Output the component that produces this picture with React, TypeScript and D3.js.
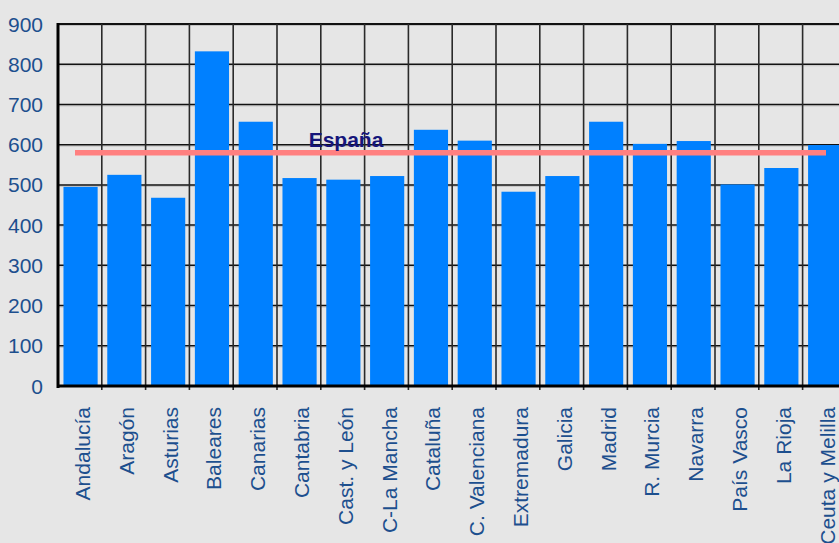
import * as d3 from "d3";

const W = 839;
const H = 543;
const MARGIN = { top: 24, left: 58, bottom: 157 };

const regions = [
  "Andalucía", "Aragón", "Asturias", "Baleares", "Canarias", "Cantabria",
  "Cast. y León", "C-La Mancha", "Cataluña", "C. Valenciana", "Extremadura",
  "Galicia", "Madrid", "R. Murcia", "Navarra", "País Vasco", "La Rioja",
  "Ceuta y Melilla",
];
const values = [
  495, 525, 468, 832, 657, 517, 513, 522, 637, 610, 483, 522, 657, 602, 609,
  501, 542, 599,
];
const espana = 580;
const yTicks = [0, 100, 200, 300, 400, 500, 600, 700, 800, 900];

const LABEL = "#1d4f8e";
const FONT = "'Liberation Sans', Arial, sans-serif";

export default function App() {
  const step = 43.8;
  const x = d3
    .scaleBand<string>()
    .domain(regions)
    .range([MARGIN.left, MARGIN.left + step * regions.length])
    .padding(0);
  const y = d3
    .scaleLinear()
    .domain([0, 900])
    .range([H - MARGIN.bottom - 0, MARGIN.top]);

  const bw = x.bandwidth();
  const barW = bw * 0.78;
  const barOff = bw * 0.125;
  const y0 = y(0);

  return (
    <svg
      width={W}
      height={H}
      style={{ position: "absolute", left: 0, top: 0, background: "#e6e6e6" }}
    >
      <rect x={0} y={0} width={W} height={H} fill="#e6e6e6" />

      {/* grid */}
      {yTicks.slice(1).map((t) => (
        <g key={"h" + t}>
          <line x1={MARGIN.left} x2={W} y1={y(t) + 1.5} y2={y(t) + 1.5} stroke="#c4c4c4" strokeWidth={1} />
          <line x1={MARGIN.left} x2={W} y1={y(t)} y2={y(t)} stroke="#111" strokeWidth={t === 900 ? 2 : 1.5} />
        </g>
      ))}
      {regions.slice(1).map((r) => (
        <line
          key={"v" + r}
          x1={x(r)!}
          x2={x(r)!}
          y1={MARGIN.top}
          y2={y0 + 4}
          stroke="#2a2a2a"
          strokeWidth={1.6}
        />
      ))}

      {/* bars */}
      {regions.map((r, i) => (
        <rect
          key={r}
          x={x(r)! + barOff}
          y={y(values[i])}
          width={barW}
          height={y0 - y(values[i])}
          fill="#0080ff"
        />
      ))}

      {/* axes */}
      <line x1={MARGIN.left} x2={MARGIN.left} y1={MARGIN.top - 1} y2={y0 + 2} stroke="#000" strokeWidth={3} />
      <line x1={MARGIN.left} x2={W} y1={y0} y2={y0} stroke="#000" strokeWidth={3} />

      {/* España reference line */}
      <line
        x1={75}
        x2={826}
        y1={y(espana)}
        y2={y(espana)}
        stroke="#ff8080"
        strokeWidth={5.5}
      />
      <text
        x={346}
        y={y(espana) - 6}
        textAnchor="middle"
        fontFamily={FONT}
        fontWeight="bold"
        fontSize={21}
        fill="#15157a"
      >
        España
      </text>

      {/* y tick labels */}
      {yTicks.map((t) => (
        <text
          key={"yl" + t}
          x={43}
          y={y(t) + 7.5}
          textAnchor="end"
          fontFamily={FONT}
          fontSize={21}
          fill={LABEL}
        >
          {t}
        </text>
      ))}

      {/* x tick labels */}
      {regions.map((r) => {
        const cx = x(r)! + bw / 2 + 10;
        const ty = 407;
        return (
          <text
            key={"xl" + r}
            transform={`translate(${cx},${ty}) rotate(-90)`}
            textAnchor="end"
            fontFamily={FONT}
            fontSize={21}
            fill={LABEL}
          >
            {r}
          </text>
        );
      })}
    </svg>
  );
}
